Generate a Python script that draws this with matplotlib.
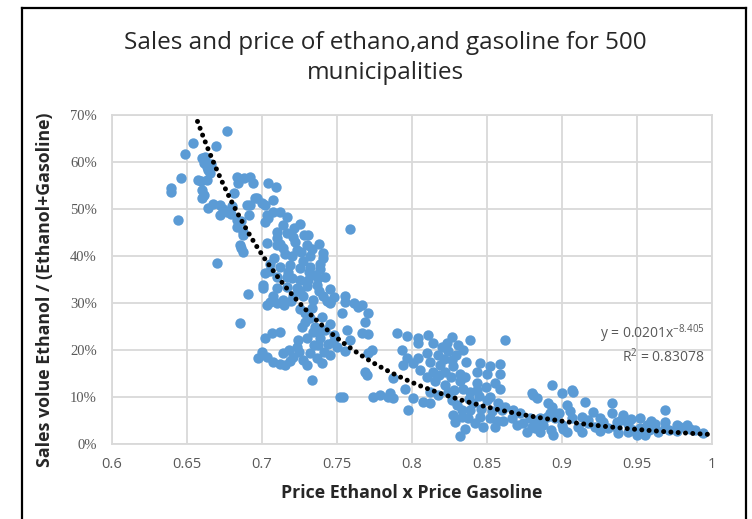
import numpy as np
import matplotlib
matplotlib.use("Agg")
import matplotlib.pyplot as plt
from matplotlib.lines import Line2D

# (price ratio, ethanol share %) per municipality, grouped by region of the cloud
steep_left = [
    (0.639, 54.5), (0.639, 53.7), (0.644, 47.7), (0.6458, 56.7), (0.6487, 61.8),
    (0.6538, 64.0), (0.6573, 56.2), (0.660, 60.8), (0.661, 59.8), (0.662, 60.3),
    (0.663, 59.0), (0.664, 58.4), (0.665, 57.6), (0.659, 56.0), (0.660, 54.0),
    (0.661, 53.0), (0.663, 56.2), (0.664, 50.2), (0.669, 63.5), (0.6765, 66.5),
    (0.670, 38.5), (0.672, 50.8), (0.672, 48.7), (0.6765, 49.4), (0.679, 49.0),
    (0.680, 50.6), (0.683, 56.9), (0.684, 55.5), (0.686, 47.5), (0.683, 47.7),
    (0.688, 56.5), (0.690, 50.8), (0.692, 56.9), (0.694, 55.5), (0.6965, 52.3),
    (0.692, 50.8), (0.691, 48.7), (0.6953, 52.3), (0.6876, 44.5), (0.6998, 51.2),
    (0.683, 46.2), (0.6853, 42.3), (0.6876, 40.9), (0.686, 41.8), (0.6909, 32.0),
    (0.6853, 25.7), (0.660, 52.4), (0.667, 51.0), (0.674, 50.0), (0.681, 53.5),
    (0.687, 45.2), (0.662, 61.0), (0.666, 59.5),
]

core = [
    (0.704, 55.5), (0.709, 54.7), (0.702, 50.8), (0.704, 48.0), (0.707, 49.4),
    (0.7075, 51.9), (0.703, 48.7), (0.712, 49.4), (0.7165, 48.4), (0.702, 47.3),
    (0.7253, 46.9), (0.7307, 44.5), (0.7587, 45.7), (0.710, 45.2), (0.7165, 44.8),
    (0.7207, 44.1), (0.7098, 43.8), (0.7032, 42.7), (0.7097, 42.3), (0.714, 41.6),
    (0.723, 41.3), (0.730, 42.3), (0.7198, 39.9), (0.732, 39.9), (0.7407, 40.6),
    (0.7407, 39.5), (0.7053, 38.4), (0.712, 37.7), (0.7187, 38.0), (0.7253, 37.4),
    (0.732, 37.7), (0.7387, 38.4), (0.7387, 37.3), (0.702, 36.3), (0.7009, 33.8),
    (0.7009, 33.1), (0.710, 35.6), (0.7165, 35.6), (0.720, 35.3), (0.7253, 34.9),
    (0.7307, 34.9), (0.7373, 35.3), (0.7365, 33.8), (0.7298, 33.6), (0.723, 33.1),
    (0.7165, 33.5), (0.710, 33.1), (0.7075, 31.4), (0.714, 30.6), (0.7207, 31.4),
    (0.7273, 31.4), (0.734, 30.6), (0.7407, 31.4), (0.7453, 30.3), (0.7553, 31.4),
    (0.7553, 30.3), (0.764, 29.2), (0.705, 30.3), (0.710, 29.9), (0.703, 29.6),
    (0.7145, 29.6), (0.745, 29.9), (0.7613, 29.9), (0.7665, 29.6), (0.715, 40.5),
    (0.722, 43.0), (0.727, 39.0), (0.717, 36.5), (0.735, 36.0), (0.728, 44.5),
    (0.712, 42.5), (0.725, 32.5), (0.738, 32.5), (0.719, 30.5), (0.733, 41.5),
    (0.708, 39.5), (0.705, 36.8), (0.742, 35.5), (0.745, 33.0), (0.748, 31.2),
    (0.738, 42.5), (0.721, 46.0), (0.714, 46.5), (0.726, 40.8), (0.731, 36.6),
]

lower_band = [
    (0.7287, 27.8), (0.7287, 26.0), (0.7531, 27.8), (0.7709, 27.8), (0.7687, 26.0),
    (0.7665, 23.6), (0.7709, 23.4), (0.702, 22.5), (0.712, 23.9), (0.7065, 23.6),
    (0.7242, 22.1), (0.7298, 22.6), (0.7342, 23.9), (0.7387, 22.6), (0.742, 24.3),
    (0.7375, 21.1), (0.7442, 21.3), (0.7475, 21.8), (0.7498, 20.7), (0.7565, 24.3),
    (0.7587, 22.1), (0.7709, 19.3), (0.773, 20.0), (0.6998, 19.6), (0.7031, 18.6),
    (0.6975, 18.2), (0.7075, 17.5), (0.7142, 19.3), (0.7153, 16.8), (0.7209, 18.6),
    (0.7275, 17.9), (0.732, 19.3), (0.7365, 18.2), (0.7398, 17.2), (0.7453, 18.9),
    (0.7298, 16.8), (0.7231, 20.7), (0.718, 20.0), (0.7331, 13.6), (0.7698, 14.7),
    (0.7687, 15.4), (0.752, 10.1), (0.7542, 10.1), (0.7742, 10.1), (0.7787, 10.4),
    (0.7842, 10.1), (0.745, 25.5), (0.735, 25.0), (0.740, 27.0), (0.733, 29.0),
    (0.725, 28.8), (0.7555, 19.8), (0.748, 23.2), (0.7265, 24.8), (0.712, 17.0),
    (0.7185, 17.7), (0.7345, 21.0), (0.741, 19.6), (0.7245, 19.6), (0.738, 24.2),
    (0.732, 26.8), (0.7435, 30.5),
]

middle_band = [
    (0.7898, 23.6), (0.7965, 22.9), (0.8042, 22.5), (0.8109, 23.2), (0.8265, 22.8),
    (0.8387, 22.1), (0.862, 22.1), (0.8042, 21.4), (0.8142, 21.4), (0.8198, 20.7),
    (0.8309, 21.1), (0.8342, 20.0), (0.8242, 19.8), (0.8175, 18.9), (0.8098, 19.3),
    (0.7965, 18.2), (0.7942, 16.8), (0.8009, 17.2), (0.8042, 18.2), (0.812, 17.5),
    (0.8187, 16.8), (0.8265, 17.9), (0.8276, 16.5), (0.822, 15.4), (0.832, 15.0),
    (0.832, 13.3), (0.8142, 15.4), (0.8098, 14.3), (0.8153, 13.3), (0.822, 12.6),
    (0.812, 11.1), (0.8175, 10.4), (0.8242, 11.1), (0.8453, 17.2), (0.852, 16.5),
    (0.8587, 17.0), (0.8431, 15.4), (0.8498, 15.0), (0.8587, 15.0), (0.8553, 12.9),
    (0.8587, 11.8), (0.8431, 12.9), (0.8431, 11.5), (0.8387, 11.1), (0.852, 10.1),
    (0.7875, 14.0), (0.7853, 10.8), (0.7875, 9.7), (0.7953, 11.8), (0.7975, 7.2),
    (0.8009, 9.7), (0.8075, 9.0), (0.812, 8.8), (0.8265, 9.4), (0.8298, 8.2),
    (0.8276, 6.2), (0.8331, 7.2), (0.8287, 4.7), (0.832, 1.6), (0.8387, 7.2),
    (0.8375, 5.5), (0.842, 4.4), (0.8453, 5.7), (0.8475, 3.7), (0.852, 5.5),
    (0.8553, 3.7), (0.8498, 9.4), (0.8575, 8.7), (0.8598, 7.2), (0.862, 7.9),
    (0.8675, 7.2), (0.872, 6.5), (0.8742, 4.4), (0.8798, 3.7), (0.8809, 10.4),
    (0.8831, 9.7), (0.8787, 5.5), (0.8853, 5.5), (0.8875, 4.0), (0.8898, 5.7),
    (0.892, 6.5), (0.8665, 5.5), (0.8698, 4.0), (0.8765, 2.6), (0.8853, 2.6),
    (0.8798, 10.8), (0.821, 18.0), (0.826, 14.2), (0.829, 19.0), (0.836, 17.5),
    (0.834, 11.8), (0.838, 9.5), (0.828, 11.5), (0.818, 14.6), (0.823, 21.5),
    (0.8355, 14.2), (0.8405, 8.8), (0.846, 7.4), (0.8535, 7.0), (0.8445, 10.2),
    (0.8565, 5.0), (0.8605, 4.8), (0.849, 12.2), (0.8355, 3.2), (0.8335, 5.8),
    (0.805, 15.8), (0.7935, 20.0),
]

tail = [
    (0.8931, 12.6), (0.8998, 10.8), (0.9075, 11.1), (0.9065, 11.5), (0.9153, 9.0),
    (0.9331, 8.7), (0.9687, 7.2), (0.8909, 8.7), (0.8931, 7.9), (0.903, 8.3),
    (0.9209, 6.9), (0.9331, 6.5), (0.9409, 6.2), (0.952, 5.5), (0.9687, 4.7),
    (0.882, 5.0), (0.8953, 5.5), (0.8998, 4.0), (0.9065, 5.5), (0.9131, 5.8),
    (0.9109, 3.7), (0.9175, 4.4), (0.922, 3.7), (0.9276, 4.7), (0.9309, 3.4),
    (0.9365, 4.7), (0.9365, 3.4), (0.9443, 4.3), (0.9476, 3.0), (0.952, 3.4),
    (0.9553, 1.9), (0.9565, 4.0), (0.962, 3.4), (0.962, 4.3), (0.9687, 3.4),
    (0.9765, 4.0), (0.9787, 3.7), (0.9831, 4.0), (0.9853, 3.2), (0.9765, 2.8),
    (0.9942, 2.3), (0.8942, 1.9), (0.903, 2.6), (0.9131, 2.6), (0.882, 3.3),
    (0.9376, 2.3), (0.9498, 1.9), (0.898, 6.6), (0.905, 7.0), (0.917, 5.2),
    (0.925, 5.6), (0.939, 5.1), (0.946, 5.4), (0.958, 3.0), (0.9005, 3.2),
    (0.8925, 3.0), (0.9255, 2.8), (0.944, 2.6), (0.964, 2.6), (0.9715, 3.0),
    (0.9595, 5.0), (0.9885, 3.0),
]

# power trendline reported by the fit
coef_a = 0.0201
coef_b = -8.405
r_squared = 0.83078

x_ticks = [0.6, 0.65, 0.7, 0.75, 0.8, 0.85, 0.9, 0.95, 1.0]
x_tick_labels = ["0.6", "0.65", "0.7", "0.75", "0.8", "0.85", "0.9", "0.95", "1"]
y_ticks = [0, 10, 20, 30, 40, 50, 60, 70]

plt.rcParams["mathtext.default"] = "regular"

pts = np.array(steep_left + core + lower_band + middle_band + tail)
price = pts[:, 0]
share = pts[:, 1]

fig = plt.figure(figsize=(7.52, 5.19), dpi=100)
ax = fig.add_axes([112 / 752, 75 / 519, 600 / 752, 329 / 519])

ax.scatter(price, share, s=56, color="#5B9BD5", linewidths=0, zorder=3)

trend_x = np.linspace(0.657, 0.998, 200)
trend_y = coef_a * trend_x ** coef_b * 100
ax.plot(trend_x, trend_y, color="black", lw=3.6, linestyle=(0, (0.01, 1.45)),
        dash_capstyle="round", zorder=4)

ax.set_xlim(0.6, 1.0)
ax.set_ylim(0, 70)
ax.set_xticks(x_ticks)
ax.set_xticklabels(x_tick_labels, fontfamily="Open Sans", fontsize=10.5, color="#595959")
ax.set_yticks(y_ticks)
ax.set_yticklabels([f"{v}%" for v in y_ticks], fontfamily="Liberation Serif",
                   fontsize=10.5, color="#595959")
ax.tick_params(length=0, pad=11)
ax.tick_params(axis="x", pad=9)
ax.grid(True, color="#D9D9D9", lw=1.3)
ax.set_axisbelow(True)
for sp in ax.spines.values():
    sp.set_color("#D9D9D9")
    sp.set_linewidth(1.3)

ax.set_xlabel("Price Ethanol x Price Gasoline", fontfamily="Open Sans", fontweight="bold",
              fontsize=12.8, color="#262626", labelpad=9)
fig.text(45 / 752, 1 - 290 / 519, "Sales volue Ethanol / (Ethanol+Gasoline)",
         rotation=90, ha="center", va="center", fontfamily="Open Sans",
         fontweight="bold", fontsize=12.8, color="#262626")

fig.text(385 / 752, 1 - 58 / 519,
         "Sales and price of ethano,and gasoline for 500\nmunicipalities",
         ha="center", va="center", fontfamily="Open Sans", fontsize=17.5,
         color="#262626", linespacing=1.3)

ax.text(0.995, 23.5, f"y = {coef_a}x$^{{{coef_b}}}$", ha="right", va="center",
        fontfamily="Open Sans", fontsize=10, color="#595959")
ax.text(0.995, 18.6, f"R$^2$ = {r_squared}", ha="right", va="center",
        fontfamily="Open Sans", fontsize=10, color="#595959")

# outer frame
for xs, ys in [((22, 22), (0, 511)), ((22, 746), (511, 511)), ((746, 746), (511, 0))]:
    fig.add_artist(Line2D([x / 752 for x in xs], [y / 519 for y in ys],
                          color="black", lw=1.6))

fig.savefig("out.png", dpi=100, facecolor="white")
